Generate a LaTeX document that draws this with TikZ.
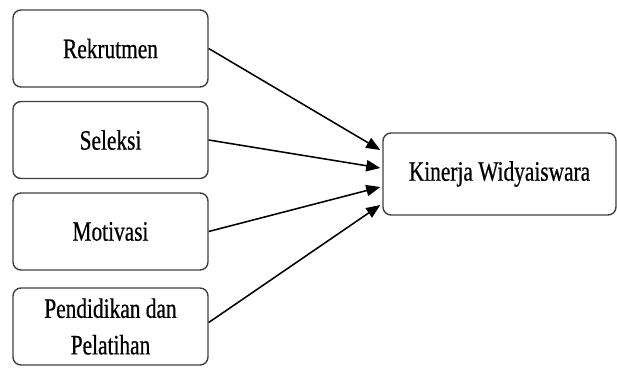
\documentclass[tikz,border=0pt]{standalone}
\usepackage{fontspec}
\setmainfont{Liberation Serif}[FakeStretch=0.76,FakeBold=0.6]
\usepackage{tikz}
\usetikzlibrary{arrows.meta,positioning,calc}

\begin{document}
\begin{tikzpicture}[>={Triangle[length=10pt,width=8pt]},
  var/.style={draw=black!75,line width=1pt,rounded corners=0.2cm,
    minimum width=4.875cm,minimum height=1.925cm,align=center,
    font=\fontsize{20}{26}\selectfont},
  arr/.style={->,line width=1.1pt}]
  \useasboundingbox (0,0) rectangle (15.425,9.175);
  \node[var](rek) at (2.7625,7.9625){Rekrutmen};
  \node[var](sel) at (2.7625,5.675){Seleksi};
  \node[var](mot) at (2.7625,3.3875){Motivasi};
  \node[var](pdl) at (2.7625,1.0125){Pendidikan dan\\Pelatihan};
  \node[var,minimum width=5.825cm,minimum height=2.05cm](kw) at (12.4875,4.825){Kinerja Widyaiswara};
  % arrows into kinerja
  \draw[arr] (rek.east) -- ($(kw.west)+(-0.05,0.6)$);
  \draw[arr] (sel.east) -- ($(kw.west)+(-0.05,0.15)$);
  \draw[arr] (mot.east) -- ($(kw.west)+(-0.05,-0.325)$);
  \draw[arr] ($(pdl.east)+(0,0.1)$) -- ($(kw.west)+(-0.05,-0.775)$);
\end{tikzpicture}
\end{document}
